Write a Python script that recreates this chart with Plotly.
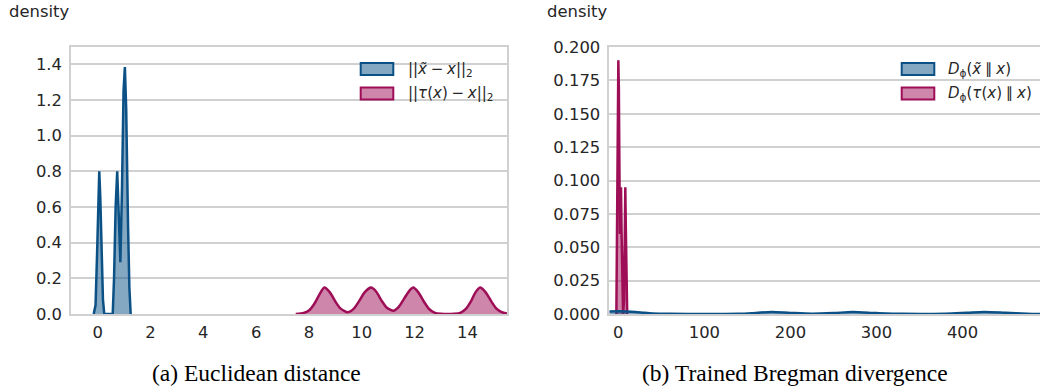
import plotly.graph_objects as go

# ---------------- data ----------------
# (a) Euclidean distance – KDE curves
euc_noise_x = [-0.15, -0.08, -0.02, 0.03, 0.06, 0.10, 0.15, 0.20, 0.25, 0.57, 0.62, 0.68, 0.74,
               0.80, 0.86, 0.92, 0.98, 1.03, 1.08, 1.15, 1.20, 1.25]
euc_noise_y = [0.0, 0.05, 0.35, 0.72, 0.80, 0.65, 0.32, 0.08, 0.0, 0.0, 0.20, 0.60, 0.80,
               0.55, 0.29, 0.70, 1.25, 1.385, 1.15, 0.50, 0.15, 0.0]

euc_tau_x = [7.5, 7.8, 8.0, 8.2, 8.4, 8.58, 8.8, 9.0, 9.2, 9.47, 9.7, 9.9, 10.1, 10.35, 10.55,
             10.75, 10.95, 11.2, 11.4, 11.6, 11.8, 11.95, 12.15, 12.35, 12.55, 12.75, 13.0,
             13.5, 13.75, 13.95, 14.15, 14.3, 14.48, 14.7, 14.9, 15.1, 15.3, 15.5]
euc_tau_y = [0.0, 0.006, 0.02, 0.056, 0.11, 0.148, 0.12, 0.07, 0.03, 0.01, 0.03, 0.072, 0.12,
             0.148, 0.125, 0.075, 0.035, 0.018, 0.04, 0.085, 0.13, 0.148, 0.12, 0.07, 0.028,
             0.008, 0.001, 0.001, 0.008, 0.03, 0.075, 0.12, 0.148, 0.12, 0.072, 0.03, 0.01, 0.002]

# (b) Trained Bregman divergence – KDE curves
breg_noise_x = [-10.5, 0, 10, 20, 30, 40, 60, 100, 140, 160, 178, 200, 225, 250, 272, 300, 330,
                380, 405, 425, 450, 475, 490]
breg_noise_y = [0.0019, 0.002, 0.0019, 0.0015, 0.0009, 0.0004, 0.0001, 0.0, 0.0001, 0.0008,
                0.0015, 0.0008, 0.0002, 0.0007, 0.0015, 0.0007, 0.0001, 0.0002, 0.0009, 0.0015,
                0.0009, 0.0002, 0.0]

breg_tau_x = [-2.3, -1.2, -0.4, 0.0, 0.6, 1.2, 1.8, 2.5, 3.1, 3.8, 4.6, 5.5, 6.6, 7.3, 8.1, 8.8,
              9.6, 10.3]
breg_tau_y = [0.0, 0.10, 0.18, 0.19, 0.17, 0.10, 0.06, 0.09, 0.095, 0.06, 0.01, 0.0, 0.01, 0.07,
              0.095, 0.06, 0.01, 0.0]

euc_xticks = [0, 2, 4, 6, 8, 10, 12, 14]
euc_yticks = [0.0, 0.2, 0.4, 0.6, 0.8, 1.0, 1.2, 1.4]
breg_xticks = [0, 100, 200, 300, 400]
breg_yticks = [0.0, 0.025, 0.05, 0.075, 0.1, 0.125, 0.15, 0.175, 0.2]

SP = "\u2005"  # four-per-em space (math operator spacing)
legend_a = ["||<i>x\u0303</i>" + SP + "\u2212" + SP + "<i>x</i>||<sub>2</sub>",
            "||<i>\u03c4</i>(<i>x</i>)" + SP + "\u2212" + SP + "<i>x</i>||<sub>2</sub>"]
legend_b = ["<i>D</i><sub>\u03d5</sub>(<i>x\u0303</i>" + SP + "\u2225" + SP + "<i>x</i>)",
            "<i>D</i><sub>\u03d5</sub>(<i>\u03c4</i>(<i>x</i>)" + SP + "\u2225" + SP + "<i>x</i>)"]
captions = ["(a) Euclidean distance", "(b) Trained Bregman divergence"]

# ---------------- style ----------------
W, H = 1040, 387
BLUE = "#0b5185"
BLUE_FILL = "rgba(11,81,133,0.5)"
PINK = "#9e0e57"
PINK_FILL = "rgba(158,14,87,0.5)"
GRID = "#d0d0d0"
TXT = "#262626"
FONT = "DejaVu Sans"
FS = 16.4
LFS = 15


def px_x(x):
    return x / W


def px_y(y):
    return 1 - y / H


fig = go.Figure()

fig.add_trace(go.Scatter(x=euc_noise_x, y=euc_noise_y, mode="lines", fill="tozeroy",
                         line=dict(color=BLUE, width=2.5), fillcolor=BLUE_FILL,
                         xaxis="x", yaxis="y", showlegend=False))
fig.add_trace(go.Scatter(x=euc_tau_x, y=euc_tau_y, mode="lines", fill="tozeroy",
                         line=dict(color=PINK, width=2.5, shape="spline", smoothing=0.6),
                         fillcolor=PINK_FILL, xaxis="x", yaxis="y", showlegend=False))
fig.add_trace(go.Scatter(x=breg_tau_x, y=breg_tau_y, mode="lines", fill="tozeroy",
                         line=dict(color=PINK, width=2.5), fillcolor=PINK_FILL,
                         xaxis="x2", yaxis="y2", showlegend=False))
fig.add_trace(go.Scatter(x=breg_noise_x, y=breg_noise_y, mode="lines", fill="tozeroy",
                         line=dict(color=BLUE, width=2.5, shape="spline", smoothing=0.8),
                         fillcolor=BLUE_FILL, xaxis="x2", yaxis="y2", showlegend=False))

# domains
ax_a = [px_x(71), px_x(507)]
ax_b = [px_x(609.3), 1.0]
ay = [px_y(314), px_y(47)]

common_x = dict(showgrid=False, zeroline=False, showline=True, linecolor=GRID, linewidth=1.5,
                ticks="outside", ticklen=3, tickcolor="rgba(0,0,0,0)", automargin=False,
                tickfont=dict(family=FONT, size=FS, color=TXT))
common_y = dict(showgrid=True, gridcolor=GRID, gridwidth=1.5, zeroline=False, showline=True,
                linecolor=GRID, linewidth=1.5, ticks="outside", ticklen=4, automargin=False,
                tickcolor="rgba(0,0,0,0)", tickfont=dict(family=FONT, size=FS, color=TXT))

fig.update_layout(
    width=W, height=H, margin=dict(l=0, r=0, t=0, b=0, pad=0, autoexpand=False),
    autosize=False, paper_bgcolor="white", plot_bgcolor="white",
    xaxis=dict(domain=ax_a, range=[-1.01, 15.5], tickvals=euc_xticks, anchor="y",
               mirror=True, **common_x),
    yaxis=dict(domain=ay, range=[0, 1.497], tickvals=euc_yticks, tickformat=".1f",
               anchor="x", mirror=True, **common_y),
    xaxis2=dict(domain=ax_b, range=[-10.5, 490], tickvals=breg_xticks, anchor="y2",
                mirror=True, **common_x),
    yaxis2=dict(domain=ay, range=[0, 0.2], tickvals=breg_yticks, tickformat=".3f",
                anchor="x2", **common_y),
    showlegend=False,
)

annotations = []
shapes = []

# "density" labels
for xl in (7, 545):
    annotations.append(dict(text="density", x=px_x(xl), y=px_y(11.5), xref="paper", yref="paper",
                            xanchor="left", yanchor="middle", showarrow=False,
                            font=dict(family=FONT, size=FS, color=TXT)))

# captions
for cx, cap in zip((256.5, 795), captions):
    annotations.append(dict(text=cap, x=px_x(cx), y=px_y(373), xref="paper", yref="paper",
                            xanchor="center", yanchor="middle", showarrow=False,
                            font=dict(family="Liberation Serif", size=23.5, color="black")))

# legends (patches + labels)
legend_specs = [
    (360.7, 406, legend_a),
    (901.7, 946, legend_b),
]
for x0, tx, labels in legend_specs:
    for i, (lab, lc, fc) in enumerate(zip(labels, (BLUE, PINK), (BLUE_FILL, PINK_FILL))):
        yc = 69 + i * 24.5
        shapes.append(dict(type="rect", xref="paper", yref="paper",
                           x0=px_x(x0), x1=px_x(x0 + 32.6), y0=px_y(yc - 6), y1=px_y(yc + 6),
                           line=dict(width=0), fillcolor="white", layer="above"))
        shapes.append(dict(type="rect", xref="paper", yref="paper",
                           x0=px_x(x0), x1=px_x(x0 + 32.6), y0=px_y(yc - 6), y1=px_y(yc + 6),
                           line=dict(color=lc, width=2), fillcolor=fc, layer="above"))
        annotations.append(dict(text=lab, x=px_x(tx), y=px_y(yc), xref="paper", yref="paper",
                                xanchor="left", yanchor="middle", showarrow=False,
                                font=dict(family=FONT, size=LFS, color=TXT)))

fig.update_layout(annotations=annotations, shapes=shapes)

fig.write_html("out.html", config={"responsive": False, "displayModeBar": False},
               post_script="document.body.style.margin='0';"
                           "document.documentElement.style.overflow='hidden';")
